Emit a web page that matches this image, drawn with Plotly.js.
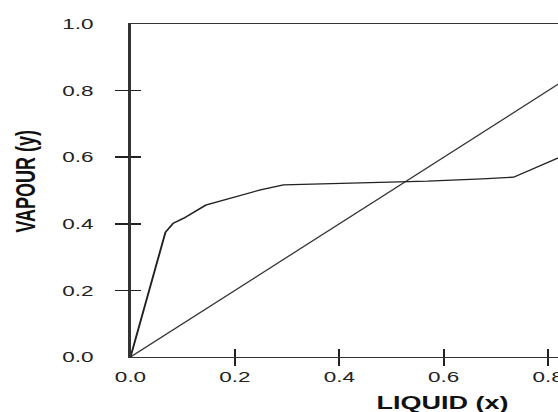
<!DOCTYPE html>
<html>
<head>
<meta charset="utf-8">
<script src="https://cdn.plot.ly/plotly-3.0.1.min.js"></script>
<style>
  html, body { margin: 0; padding: 0; background: #fff; overflow: hidden; width: 558px; height: 412px; }
  #wrap { width: 558px; height: 412px; overflow: hidden; position: relative; }
  #plot { width: 450px; height: 412px; transform: scaleX(1.5); transform-origin: 0 0; position: absolute; left: 0; top: 0; }
</style>
</head>
<body>
<div id="wrap"><div id="plot"></div></div>
<script>
// Equilibrium curve (liquid x vs vapour y)
const liquidX = [0, 0.067, 0.082, 0.102, 0.144, 0.211, 0.249, 0.293, 0.358, 0.464, 0.569, 0.674, 0.734, 0.83];
const vapourY = [0, 0.375, 0.402, 0.417, 0.456, 0.486, 0.502, 0.517, 0.520, 0.523, 0.528, 0.535, 0.540, 0.605];
// 45-degree reference line
const diagX = [0, 1];
const diagY = [0, 1];
// Axis ticks
const tickValsAll = [0, 0.2, 0.4, 0.6, 0.8, 1.0];
const tickTextAll = ["0.0", "0.2", "0.4", "0.6", "0.8", "1.0"];
const tickMarks = [0.2, 0.4, 0.6, 0.8];
const xTitle = "LIQUID (x)";
const yTitle = "VAPOUR (y)";

const traces = [
  { x: diagX, y: diagY, type: 'scatter', mode: 'lines', line: { color: '#333', width: 1.1 }, hoverinfo: 'skip' },
  { x: liquidX, y: vapourY, type: 'scatter', mode: 'lines', line: { color: '#222', width: 1.3 }, hoverinfo: 'skip' },
  // empty helper traces so the tick-only overlay axes get drawn
  { x: [null], y: [null], xaxis: 'x2', yaxis: 'y2', type: 'scatter', mode: 'lines', hoverinfo: 'skip' },
  { x: [null], y: [null], xaxis: 'x3', yaxis: 'y3', type: 'scatter', mode: 'lines', hoverinfo: 'skip' }
];

const tickFont = { family: 'Liberation Sans, Arial, sans-serif', size: 15, color: '#222' };
const baseAx = { range: [0, 1], autorange: false, showgrid: false, zeroline: false, fixedrange: true };

const layout = {
  width: 450, height: 412,
  margin: { l: 87, r: 15, t: 24, b: 55 },
  paper_bgcolor: '#fff', plot_bgcolor: '#fff',
  showlegend: false,
  font: tickFont,
  xaxis: Object.assign({}, baseAx, {
    tickvals: tickValsAll, ticktext: tickTextAll, ticks: '', ticklabelstandoff: 6,
    showline: true, mirror: true, linecolor: '#333', linewidth: 1.4, tickfont: tickFont
  }),
  yaxis: Object.assign({}, baseAx, {
    tickvals: tickValsAll, ticktext: tickTextAll, ticks: '', ticklabelstandoff: 20,
    showline: true, mirror: true, linecolor: '#333', linewidth: 1.6, tickfont: tickFont
  }),
  xaxis2: Object.assign({}, baseAx, { overlaying: 'x', anchor: 'y2', side: 'bottom', tickvals: tickMarks, ticks: 'outside', ticklen: 8, tickwidth: 1.2, tickcolor: '#222', showticklabels: false, showline: false }),
  yaxis2: Object.assign({}, baseAx, { overlaying: 'y', anchor: 'x2', side: 'left', tickvals: tickMarks, ticks: 'outside', ticklen: 9.3, tickwidth: 1.5, tickcolor: '#222', showticklabels: false, showline: false }),
  xaxis3: Object.assign({}, baseAx, { overlaying: 'x', anchor: 'y3', side: 'bottom', tickvals: tickMarks, ticks: 'inside', ticklen: 8, tickwidth: 1.2, tickcolor: '#222', showticklabels: false, showline: false }),
  yaxis3: Object.assign({}, baseAx, { overlaying: 'y', anchor: 'x3', side: 'left', tickvals: tickMarks, ticks: 'inside', ticklen: 6.7, tickwidth: 1.5, tickcolor: '#222', showticklabels: false, showline: false }),
  annotations: [
    { text: '<b>' + xTitle + '</b>', xref: 'x', yref: 'paper', x: 0.597, y: -0.138, xanchor: 'center', yanchor: 'middle', showarrow: false,
      font: { family: 'Liberation Sans, Arial, sans-serif', size: 18, color: '#111' } },
    { text: '<b>' + yTitle + '</b>', xref: 'paper', yref: 'paper', x: -0.2, y: 0.528, xanchor: 'center', yanchor: 'middle', textangle: -90, showarrow: false,
      font: { family: 'Liberation Sans, Arial, sans-serif', size: 18, color: '#111' } }
  ]
};

Plotly.newPlot('plot', traces, layout, { displayModeBar: false, staticPlot: true });
</script>
</body>
</html>
